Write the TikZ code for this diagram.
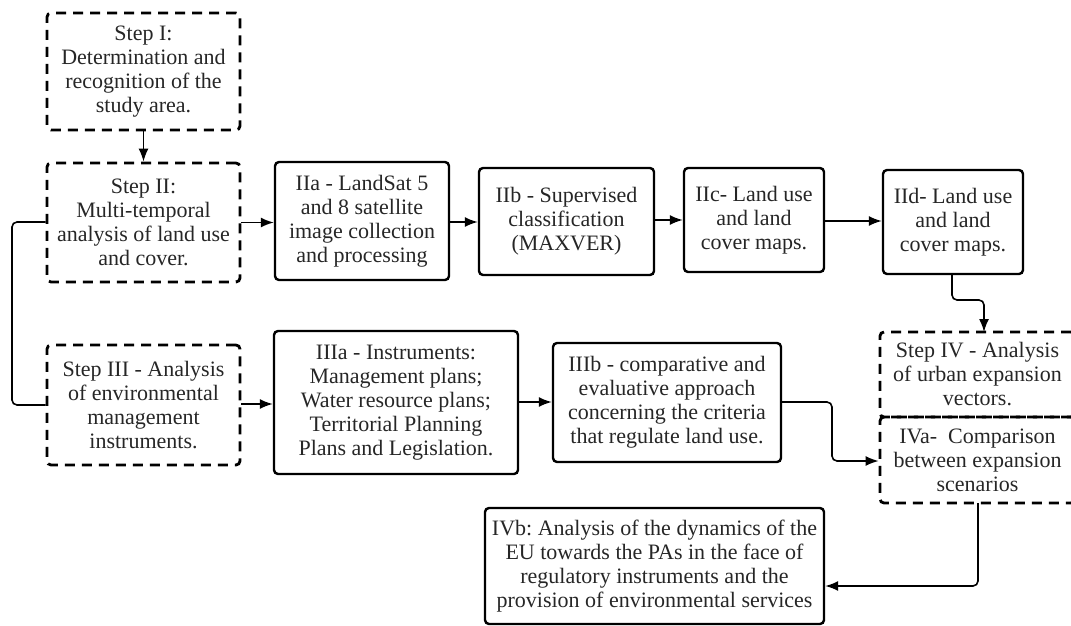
\documentclass[tikz,border=0pt]{standalone}
\usepackage{fontspec}
\setmainfont{Liberation Serif}
\usetikzlibrary{arrows.meta}
\frenchspacing
\begin{document}
\begin{tikzpicture}[x=1pt,y=-1pt,
  box/.style={draw=black, line width=2.4pt, rounded corners=4pt, align=center, inner sep=0pt,
    font=\fontsize{22}{24}\selectfont, text=black!85},
  dbox/.style={box, dashed, dash pattern=on 10pt off 7pt, line width=2.8pt},
  conn/.style={line width=1.6pt, rounded corners=5pt},
  arr/.style={conn, -{Latex[length=13pt,width=10pt]}}]
\useasboundingbox (0,0) rectangle (1071,626);
\clip (0,0) rectangle (1071,626);
% nodes
\node[dbox, minimum width=193pt, minimum height=117pt] (s1) at (143.5,71.5)
  {Step I:\\ Determination and\\ recognition of the\\ study area.};
\node[dbox, minimum width=193pt, minimum height=119pt] (s2) at (143.5,222.5)
  {Step II:\\ Multi-temporal\\ analysis of land use\\ and cover.};
\node[dbox, minimum width=193pt, minimum height=120pt] (s3) at (143.5,405)
  {Step III - Analysis\\ of environmental\\ management\\ instruments.};
\node[box, minimum width=174pt, minimum height=118pt] (IIa) at (362,221)
  {IIa - LandSat 5\\ and 8 satellite\\ image collection\\ and processing};
\node[box, minimum width=175pt, minimum height=107pt] (IIb) at (566.5,221.5)
  {IIb - Supervised\\ classification\\ (MAXVER)};
\node[box, minimum width=140pt, minimum height=104pt] (IIc) at (754,220)
  {IIc- Land use\\ and land\\ cover maps.};
\node[box, minimum width=140pt, minimum height=104pt] (IId) at (953,222)
  {IId- Land use\\ and land\\ cover maps.};
\node[box, minimum width=244pt, minimum height=143pt] (IIIa) at (396,402.5)
  {IIIa - Instruments:\\ Management plans;\\ Water resource plans;\\ Territorial Planning\\ Plans and Legislation.};
\node[box, minimum width=228pt, minimum height=119pt] (IIIb) at (667,402.5)
  {IIIb - comparative and\\ evaluative approach\\ concerning the criteria\\ that regulate land use.};
\node[dbox, minimum width=195pt, minimum height=85pt] (s4) at (977.5,374.5)
  {Step IV - Analysis\\ of urban expansion\\ vectors.};
\node[dbox, minimum width=195pt, minimum height=86pt] (IVa) at (977.5,460)
  {IVa-~ Comparison\\ between expansion\\ scenarios};
\node[box, minimum width=339pt, minimum height=116pt] (IVb) at (654.5,566)
  {IVb: Analysis of the dynamics of the\\ EU towards the PAs in the face of\\ regulatory instruments and the\\ provision of environmental services};
% helper coordinates
\coordinate (l1) at (12,222);
\coordinate (l2) at (12,405);
\coordinate (d1) at (952,300);
\coordinate (d2) at (984,300);
\coordinate (d3) at (984,332);
\coordinate (b1) at (832,402);
\coordinate (b2) at (832,461);
\coordinate (c1) at (978,503);
\coordinate (c2) at (978,586);
% connectors
\draw[arr] (s1.south) -- (s2.north);
\draw[arr] (s2.east) -- (s2.east -| IIa.west);
\draw[arr] (IIa.east |- 0,222) -- (IIb.west |- 0,222);
\draw[arr] (IIb.east |- 0,220) -- (IIc.west |- 0,220);
\draw[arr] (IIc.east |- 0,221) -- (IId.west |- 0,221);
\draw[conn] (s2.west |- l1) -- (l1) -- (l2) -- (s3.west |- l2);
\draw[arr] (s3.east |- 0,404) -- (IIIa.west |- 0,404);
\draw[arr] (IIIa.east |- 0,402) -- (IIIb.west |- 0,402);
\draw[arr] (IIIb.east |- b1) -- (b1) -- (b2) -- (IVa.west |- b2);
\draw[arr] (IId.south -| d1) -- (d1) -- (d2) -- (d3);
\draw[arr] (c1) -- (c2) -- (IVb.east |- c2);
\end{tikzpicture}
\end{document}
